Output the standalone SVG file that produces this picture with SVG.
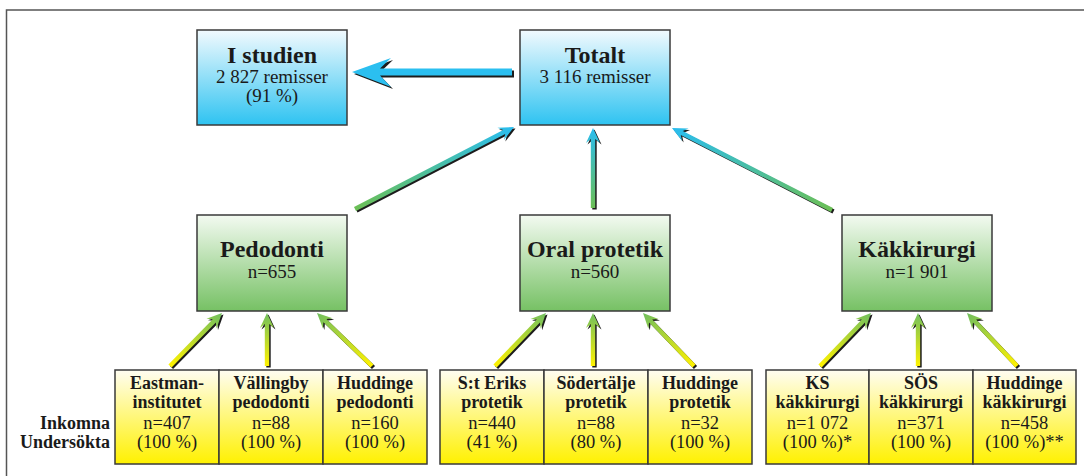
<svg xmlns="http://www.w3.org/2000/svg" xmlns:xlink="http://www.w3.org/1999/xlink" width="1084" height="476" viewBox="0 0 1084 476">
<style>
text{font-family:"Liberation Serif","DejaVu Serif",serif;fill:#1a1a1a;text-anchor:middle}
.t{font-size:24px;font-weight:bold}
.s{font-size:19px}
.yb{font-size:18px;font-weight:bold}
.yr{font-size:18.5px}
.lab{font-size:18px;font-weight:bold;text-anchor:end}
.box{stroke:#3a3a3a;stroke-width:1.5}
.blue{fill:url(#gBlue)}
.green{fill:url(#gGreen)}
.yellow{fill:url(#gYellow)}
.sh{fill:#1c1c1c}
.gb{fill:url(#gGB)}
.yg{fill:url(#gYG)}
</style>
<defs>
<linearGradient id="gBlue" x1="0" y1="0" x2="0" y2="1"><stop offset="0" stop-color="#f2fafe"/><stop offset="1" stop-color="#2ec3f1"/></linearGradient>
<linearGradient id="gGreen" x1="0" y1="0" x2="0" y2="1"><stop offset="0" stop-color="#f3faf1"/><stop offset="1" stop-color="#76c164"/></linearGradient>
<linearGradient id="gYellow" x1="0" y1="0" x2="0" y2="1"><stop offset="0" stop-color="#fffdf2"/><stop offset="1" stop-color="#fff100"/></linearGradient>
<linearGradient id="gGB" x1="0" y1="0" x2="1" y2="0"><stop offset="0" stop-color="#6cbf55"/><stop offset="1" stop-color="#29bdf0"/></linearGradient>
<linearGradient id="gYG" x1="0" y1="0" x2="1" y2="0"><stop offset="0" stop-color="#fff200"/><stop offset="1" stop-color="#70bf5e"/></linearGradient>
<polygon id="a53" points="0,-2.2 42,-2.2 38,-7 53,0 38,7 42,2.2 0,2.2"/>
<polygon id="a74" points="0,-2.2 63.25,-2.2 59.25,-7 74.25,0 59.25,7 63.25,2.2 0,2.2"/>
<polygon id="a76" points="0,-2.2 65.4,-2.2 61.4,-7 76.4,0 61.4,7 65.4,2.2 0,2.2"/>
<polygon id="a735" points="0,-2.2 62.55,-2.2 58.55,-7 73.55,0 58.55,7 62.55,2.2 0,2.2"/>
<polygon id="a729" points="0,-2.2 61.86,-2.2 57.86,-7 72.86,0 57.86,7 61.86,2.2 0,2.2"/>
<polygon id="a179" points="0,-2.2 167.9,-2.2 163.9,-7 178.9,0 163.9,7 167.9,2.2 0,2.2"/>
<polygon id="a80" points="0,-2.2 69,-2.2 65,-7 80,0 65,7 69,2.2 0,2.2"/>
<polygon id="a180" points="0,-2.2 168.8,-2.2 164.8,-7 179.8,0 164.8,7 168.8,2.2 0,2.2"/>
</defs>

<g id="frame" fill="none" stroke="#555" stroke-width="1.5">
<path d="M1084,10 H6.5 V476"/>
</g>

<g id="connectors">
<polygon class="sh" points="514,70.5 382,70.5 393,60 354,74 393,89 382,77.5 514,77.5"/>
<polygon fill="#2bbff0" points="512,68.5 380,68.5 391,58 352,72 391,87 380,75.5 512,75.5"/>
<use xlink:href="#a179" class="sh" transform="translate(356.5,210.5) rotate(-27.28)"/>
<use xlink:href="#a179" class="gb" transform="translate(355,209) rotate(-27.28)"/>
<use xlink:href="#a80" class="sh" transform="translate(594.5,209.5) rotate(-90)"/>
<use xlink:href="#a80" class="gb" transform="translate(593,208) rotate(-90)"/>
<use xlink:href="#a180" class="sh" transform="translate(833.5,211.5) rotate(-152.87)"/>
<use xlink:href="#a180" class="gb" transform="translate(832,210) rotate(-152.87)"/>
<use xlink:href="#a74" class="sh" transform="translate(171.5,367.5) rotate(-45.54)"/>
<use xlink:href="#a74" class="yg" transform="translate(170,366) rotate(-45.54)"/>
<use xlink:href="#a53" class="sh" transform="translate(268.5,367.5) rotate(-90)"/>
<use xlink:href="#a53" class="yg" transform="translate(267,366) rotate(-90)"/>
<use xlink:href="#a76" class="sh" transform="translate(373.5,367.5) rotate(-136.06)"/>
<use xlink:href="#a76" class="yg" transform="translate(372,366) rotate(-136.06)"/>
<use xlink:href="#a735" class="sh" transform="translate(496.5,367.5) rotate(-46.1)"/>
<use xlink:href="#a735" class="yg" transform="translate(495,366) rotate(-46.1)"/>
<use xlink:href="#a53" class="sh" transform="translate(594.5,367.5) rotate(-90)"/>
<use xlink:href="#a53" class="yg" transform="translate(593,366) rotate(-90)"/>
<use xlink:href="#a735" class="sh" transform="translate(695.5,367.5) rotate(-133.9)"/>
<use xlink:href="#a735" class="yg" transform="translate(694,366) rotate(-133.9)"/>
<use xlink:href="#a735" class="sh" transform="translate(821.5,367.5) rotate(-46.1)"/>
<use xlink:href="#a735" class="yg" transform="translate(820,366) rotate(-46.1)"/>
<use xlink:href="#a53" class="sh" transform="translate(919.5,367.5) rotate(-90)"/>
<use xlink:href="#a53" class="yg" transform="translate(918,366) rotate(-90)"/>
<use xlink:href="#a729" class="sh" transform="translate(1018.5,367.5) rotate(-133.33)"/>
<use xlink:href="#a729" class="yg" transform="translate(1017,366) rotate(-133.33)"/>
</g>

<g id="node-istudien">
<rect class="box blue" x="197" y="30" width="150" height="95"/>
<text class="t" x="272" y="63">I studien</text>
<text class="s" x="272" y="83">2 827 remisser</text>
<text class="s" x="272" y="102">(91 %)</text>
</g>
<g id="node-totalt">
<rect class="box blue" x="520" y="30" width="150" height="95"/>
<text class="t" x="595" y="63">Totalt</text>
<text class="s" x="595" y="83">3 116 remisser</text>
</g>

<g id="node-pedodonti">
<rect class="box green" x="197" y="215" width="150" height="96"/>
<text class="t" x="272" y="257">Pedodonti</text>
<text class="s" x="272" y="278">n=655</text>
</g>
<g id="node-oralprotetik">
<rect class="box green" x="520" y="215" width="150" height="96"/>
<text class="t" x="595" y="257">Oral protetik</text>
<text class="s" x="595" y="278">n=560</text>
</g>
<g id="node-kakkirurgi">
<rect class="box green" x="842" y="215" width="150" height="96"/>
<text class="t" x="917" y="257">Käkkirurgi</text>
<text class="s" x="917" y="278">n=1 901</text>
</g>

<g id="row-labels">
<text class="lab" x="110" y="429">Inkomna</text>
<text class="lab" x="110" y="448">Undersökta</text>
</g>

<g id="node-eastman">
<rect class="box yellow" x="115" y="370" width="104" height="94"/>
<text class="yb" x="167" y="389">Eastman-</text>
<text class="yb" x="167" y="408">institutet</text>
<text class="yr" x="167" y="429">n=407</text>
<text class="yr" x="167" y="448">(100 %)</text>
</g>
<g id="node-vallingby">
<rect class="box yellow" x="219" y="370" width="104" height="94"/>
<text class="yb" x="271" y="389">Vällingby</text>
<text class="yb" x="271" y="408">pedodonti</text>
<text class="yr" x="271" y="429">n=88</text>
<text class="yr" x="271" y="448">(100 %)</text>
</g>
<g id="node-huddinge-ped">
<rect class="box yellow" x="323" y="370" width="104" height="94"/>
<text class="yb" x="375" y="389">Huddinge</text>
<text class="yb" x="375" y="408">pedodonti</text>
<text class="yr" x="375" y="429">n=160</text>
<text class="yr" x="375" y="448">(100 %)</text>
</g>

<g id="node-sterik">
<rect class="box yellow" x="440" y="370" width="104" height="94"/>
<text class="yb" x="492" y="389">S:t Eriks</text>
<text class="yb" x="492" y="408">protetik</text>
<text class="yr" x="492" y="429">n=440</text>
<text class="yr" x="492" y="448">(41 %)</text>
</g>
<g id="node-sodertalje">
<rect class="box yellow" x="544" y="370" width="104" height="94"/>
<text class="yb" x="596" y="389">Södertälje</text>
<text class="yb" x="596" y="408">protetik</text>
<text class="yr" x="596" y="429">n=88</text>
<text class="yr" x="596" y="448">(80 %)</text>
</g>
<g id="node-huddinge-prot">
<rect class="box yellow" x="648" y="370" width="104" height="94"/>
<text class="yb" x="700" y="389">Huddinge</text>
<text class="yb" x="700" y="408">protetik</text>
<text class="yr" x="700" y="429">n=32</text>
<text class="yr" x="700" y="448">(100 %)</text>
</g>

<g id="node-ks">
<rect class="box yellow" x="766" y="370" width="103" height="94"/>
<text class="yb" x="817.5" y="389">KS</text>
<text class="yb" x="817.5" y="408">käkkirurgi</text>
<text class="yr" x="817.5" y="429">n=1 072</text>
<text class="yr" x="817.5" y="448">(100 %)*</text>
</g>
<g id="node-sos">
<rect class="box yellow" x="869" y="370" width="104" height="94"/>
<text class="yb" x="921" y="389">SÖS</text>
<text class="yb" x="921" y="408">käkkirurgi</text>
<text class="yr" x="921" y="429">n=371</text>
<text class="yr" x="921" y="448">(100 %)</text>
</g>
<g id="node-huddinge-kak">
<rect class="box yellow" x="973" y="370" width="103" height="94"/>
<text class="yb" x="1024.5" y="389">Huddinge</text>
<text class="yb" x="1024.5" y="408">käkkirurgi</text>
<text class="yr" x="1024.5" y="429">n=458</text>
<text class="yr" x="1024.5" y="448">(100 %)**</text>
</g>
</svg>
